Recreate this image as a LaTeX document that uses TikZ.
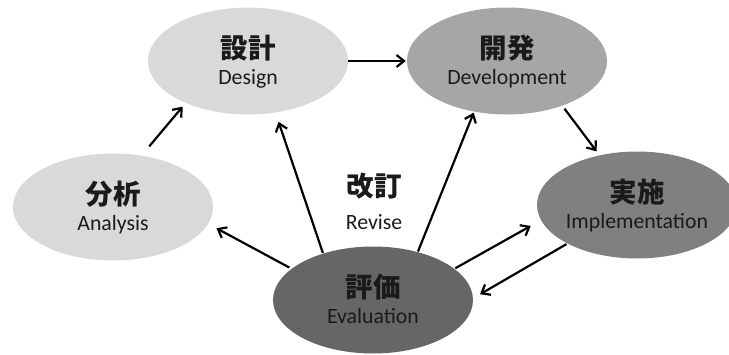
\documentclass[tikz,border=0pt]{standalone}
\usepackage{fontspec}
\setmainfont{Carlito}
\newfontfamily\cjk{Noto Sans CJK JP}
\usetikzlibrary{shapes.geometric,arrows.meta}
\definecolor{cLight}{HTML}{D9D9D9}
\definecolor{cMid}{HTML}{A6A6A6}
\definecolor{cDark}{HTML}{808080}
\definecolor{cDarker}{HTML}{666666}
\definecolor{txt}{HTML}{1A1A1A}
\begin{document}
\begin{tikzpicture}[x=1pt,y=-1pt,
  phase/.style={ellipse, minimum width=200pt, minimum height=107pt, inner sep=0pt, draw=none},
  jtxt/.style={anchor=base, inner sep=0pt, text=txt, font=\cjk\bfseries\fontsize{27.5}{30}\selectfont},
  etxt/.style={anchor=base, inner sep=0pt, text=txt, font=\fontsize{21.8}{24}\selectfont},
  conn/.style={-{Straight Barb[length=7.5pt,width=12pt]}, line width=2.2pt, black},
]
\useasboundingbox (0,0) rectangle (729,354);
\clip (0,0) rectangle (729,354);
% phases
\node[phase, fill=cLight]   (an) at (113,207) {};
\node[phase, fill=cLight]   (de) at (248,61)  {};
\node[phase, fill=cMid]     (dv) at (507,61)  {};
\node[phase, fill=cDark]    (im) at (637,205) {};
\node[phase, fill=cDarker]  (ev) at (373,300) {};
% texts
\node[jtxt] (anj) at ([yshift=3pt]an.center) {分析};
\node[etxt] (ane) at ([yshift=-23.5pt]an.center) {Analysis};
\node[jtxt] (dej) at ([yshift=3pt]de.center) {設計};
\node[etxt] (dee) at ([yshift=-23.5pt]de.center) {Design};
\node[jtxt] (dvj) at ([yshift=3pt]dv.center) {開発};
\node[etxt] (dve) at ([yshift=-23.5pt]dv.center) {Development};
\node[jtxt] (imj) at ([yshift=3pt]im.center) {実施};
\node[etxt] (ime) at ([yshift=-23.5pt]im.center) {Implementation};
\node[jtxt] (evj) at ([yshift=3pt]ev.center) {評価};
\node[etxt] (eve) at ([yshift=-23.5pt]ev.center) {Evaluation};
\node[jtxt] (rvj) at (374,196) {改訂};
\node[etxt] (rve) at (374,229) {Revise};
% connectors
\draw[conn, shorten <=12pt, shorten >=4.7pt] (an.61) -- (de.214);
\draw[conn, shorten >=1pt] (de.east) -- (dv.west);
\draw[conn, shorten <=3.6pt, shorten >=4.8pt] (dv.-39.5) -- (im.127);
\draw[conn, shorten <=1pt, shorten >=8pt] (im.209.5) -- (ev.1);
\draw[conn, shorten <=1pt, shorten >=11.7pt] (ev.21) -- (im.189);
\draw[conn, shorten <=0.5pt, shorten >=1pt] (ev.47) -- (dv.237);
\draw[conn, shorten <=0.6pt, shorten >=9.7pt] (ev.137) -- (de.-62);
\draw[conn, shorten <=2.5pt, shorten >=9.4pt] (ev.159.4) -- (an.-10);
\end{tikzpicture}
\end{document}
